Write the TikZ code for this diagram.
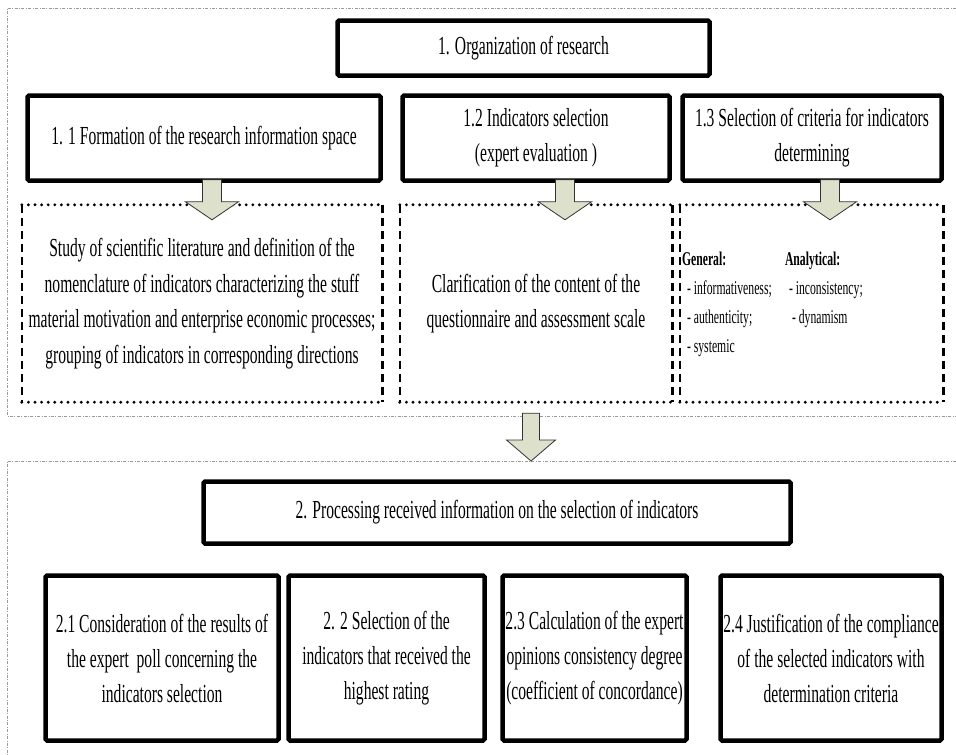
\documentclass[tikz,border=0pt]{standalone}
\usepackage{fontspec}
\setmainfont{Liberation Serif}[FakeStretch=0.6]
\usetikzlibrary{calc}
\definecolor{myarrow}{HTML}{DDE1CB}
\definecolor{myframe}{HTML}{9A9A9A}

\tikzset{
  stage/.style={draw, line width=4.5pt, rounded corners=1.5pt, align=center,
    inner sep=2pt, font=\fontsize{26}{35}\selectfont},
  stagedot/.style={align=center, inner sep=0pt, font=\fontsize{26}{35.5}\selectfont},
  crit/.style={align=left, anchor=north west, inner sep=0pt,
    font=\fontsize{19.5}{29}\selectfont},
  dotrow/.style={line width=3.2pt, line cap=round, dash pattern=on 0pt off 6.6pt},
  dotcol/.style={line width=2.6pt, dash pattern=on 8pt off 5pt},
  frame/.style={myframe, line width=0.8pt,
    dash pattern=on 3pt off 1.5pt on 0.8pt off 1.5pt},
  blockarrow/.style={fill=myarrow, draw=black!80, line width=0.8pt},
}

% dotted frame round a named node
\newcommand{\dotbox}[1]{%
  \draw[dotrow] (#1.north west) -- (#1.north east);
  \draw[dotrow] (#1.south west) -- (#1.south east);
  \draw[dotcol] (#1.north west) -- (#1.south west);
  \draw[dotcol] (#1.north east) -- (#1.south east);
}
% block arrow: start, tip, shaft half width, head half width, head length
\newcommand{\blockarr}[5]{%
  \draw[blockarrow] let \p1=(#1), \p2=(#2) in
    (\x1-#3pt,\y1) -- (\x1+#3pt,\y1) -- (\x1+#3pt,\y2+#5pt)
    -- (\x1+#4pt,\y2+#5pt) -- (\x1,\y2) -- (\x1-#4pt,\y2+#5pt)
    -- (\x1-#3pt,\y2+#5pt) -- cycle;
}

\begin{document}
\begin{tikzpicture}[x=1pt,y=-1pt]

      \useasboundingbox (0,0) rectangle (956,755);

      \pgfmathsetmacro{\topY}{48}
      \pgfmathsetmacro{\subY}{138}
      \pgfmathsetmacro{\dotY}{303.5}
      \pgfmathsetmacro{\procY}{512.5}
      \pgfmathsetmacro{\stepY}{658}
      \pgfmathsetmacro{\frameA}{416}
      \pgfmathsetmacro{\frameB}{461}

      % stage frames
      \draw [frame] (956,8) -- (7,8) -- (7,\frameA) -- (956,\frameA);
      \draw [frame] (956,\frameB) -- (7,\frameB) -- (7,755);

      % organization
      \node [stage, name=n1, minimum width=372, minimum height=55] at (523.5,\topY)
        {1. Organization of research};
      \node [stage, name=n11, minimum width=353, minimum height=85] at (204,\subY)
        {1. 1 Formation of the research information space};
      \node [stage, name=n12, minimum width=267, minimum height=85] at (536,\subY)
        {1.2 Indicators selection\\(expert evaluation )};
      \node [stage, name=n13, minimum width=259, minimum height=85] at (812,\subY)
        {1.3 Selection of criteria for indicators\\determining};

      % dotted boxes
      \node [stagedot, name=d11, minimum width=360, minimum height=197] at (202,\dotY)
        {Study of scientific literature and definition of the\\
         nomenclature of indicators characterizing the stuff\\
         material motivation and enterprise economic processes;\\
         grouping of indicators in corresponding directions};
      \node [stagedot, name=d12, minimum width=272, minimum height=197] at (536,\dotY)
        {Clarification of the content of the\\questionnaire and assessment scale};
      \node [stagedot, name=d13, minimum width=263, minimum height=197] at (811.5,\dotY) {};
      \dotbox{d11}
      \dotbox{d12}
      \dotbox{d13}

      % criteria
      \node [crit, name=c1] at ($(d13.west)+(2,-52)$)
        {\textbf{General:}\\\hspace{5pt}- informativeness;\\\hspace{5pt}- authenticity;\\\hspace{5pt}- systemic};
      \node [crit, name=c2] at ($(d13.west)+(105,-52)$)
        {\textbf{Analytical:}\\\hspace{4pt}- inconsistency;\\\hspace{7pt}- dynamism};

      % arrows
      \coordinate (a11s) at ($(n11.south)+(8,-3)$);
      \coordinate (a11e) at ($(a11s |- d11.north)+(0,15)$);
      \coordinate (a12s) at ($(n12.south)+(29,-3)$);
      \coordinate (a12e) at ($(a12s |- d12.north)+(0,15)$);
      \coordinate (a13s) at ($(n13.south)+(18,-3)$);
      \coordinate (a13e) at ($(a13s |- d13.north)+(0,15)$);
      \coordinate (a2s) at ($(d12.south)+(-5,11)$);
      \coordinate (a2e) at (a2s |- 0,\frameB);
      \blockarr{a11s}{a11e}{9.5}{26.5}{18}
      \blockarr{a12s}{a12e}{9.5}{26.5}{18}
      \blockarr{a13s}{a13e}{9.5}{26.5}{18}
      \blockarr{a2s}{a2e}{8.5}{24.5}{21}

      % processing
      \node [stage, name=n2, minimum width=587, minimum height=62] at (497,\procY)
        {2. Processing received information on the selection of indicators};
      \node [stage, name=n21, minimum width=233, minimum height=165] at (162,\stepY)
        {2.1 Consideration of the results of\\the expert\ \ poll concerning the\\indicators selection};
      \node [stage, name=n22, minimum width=196, minimum height=165] at (386.5,\stepY)
        {2. 2 Selection of the\\indicators that received the\\highest rating};
      \node [stage, name=n23, minimum width=184, minimum height=165] at (594.5,\stepY)
        {2.3 Calculation of the expert\\opinions consistency degree\\(coefficient of concordance)};
      \node [stage, name=n24, minimum width=221, minimum height=165] at (831,\stepY)
        {2.4 Justification of the compliance\\of the selected indicators with\\determination criteria};

\end{tikzpicture}
\end{document}
